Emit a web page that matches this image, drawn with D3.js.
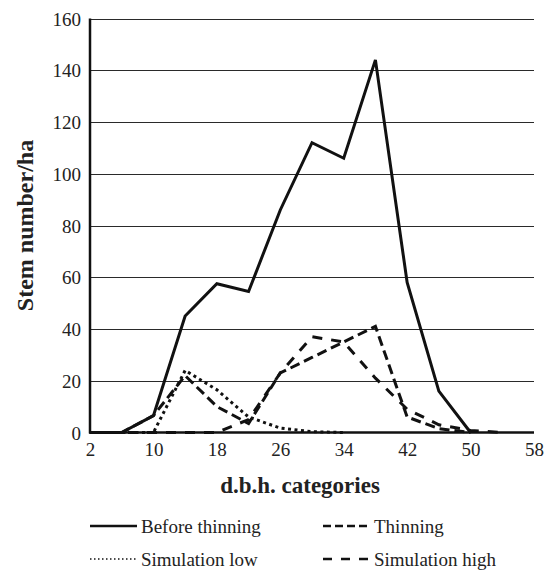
<!DOCTYPE html>
<head>
  <meta charset="UTF-8">
  <style>
    *{ margin: 0px; }
    body{ background-color: white; }
    svg, svg text{ font-family: "Liberation Serif", "Times New Roman", serif !important; }
  </style>
  <script src="https://d3js.org/d3.v7.min.js"></script>
</head>
<body>
  <svg id="chart" width="544" height="570"></svg>
  <script>
    // d.b.h. categories (cm)
    var dbh = [2, 6, 10, 14, 18, 22, 26, 30, 34, 38, 42, 46, 50, 54, 58];
    var xTicks = [2, 10, 18, 26, 34, 42, 50, 58];
    var yTicks = [0, 20, 40, 60, 80, 100, 120, 140, 160];

    // stems per ha
    var beforeThinning = [0, 0, 6.5, 45, 57.5, 54.5, 86, 112, 106, 144, 58, 16, 0];
    var thinning = [0, 0, 6.5, 22, 10, 3.5, 23, 29, 35, 41, 6, 1.5, 0];
    var simulationLow = [0, 0, 0, 24, 16.5, 6, 1.7, 0.3, 0];
    var simulationHigh = [0, 0, 0, 0, 0, 5, 23, 37, 35, 21, 9, 3, 0.8, 0];

    var series = [
      {name: "Before thinning", values: beforeThinning, dash: null, legendDash: null},
      {name: "Thinning", values: thinning, dash: "10,5", legendDash: "8,4"},
      {name: "Simulation low", values: simulationLow, dash: "3,3.5", legendDash: "1.5,2.5"},
      {name: "Simulation high", values: simulationHigh, dash: "10,9", legendDash: "9,9"}
    ];

    var svg = d3.select("#chart");
    var plotLeft = 90, plotRight = 534, plotTop = 18.5, plotBottom = 432.5;

    var x = d3.scaleLinear().domain([2, 58]).range([plotLeft, plotRight]);
    var y = d3.scaleLinear().domain([0, 160]).range([plotBottom, plotTop]);

    // gridlines
    svg.append("g")
      .selectAll("line")
      .data(yTicks.filter(d => d > 0))
      .enter()
      .append("line")
      .attr("x1", plotLeft)
      .attr("x2", plotRight)
      .attr("y1", d => Math.round(y(d)) + 0.5)
      .attr("y2", d => Math.round(y(d)) + 0.5)
      .attr("stroke", "#2a2a2a")
      .attr("stroke-width", 1);

    // axes (labels only, no tick marks)
    var yAxis = svg.append("g")
      .attr("transform", "translate(" + plotLeft + ",0)")
      .call(d3.axisLeft(y).tickValues(yTicks).tickSize(0).tickPadding(9))
      .attr("font-family", null)
      .attr("font-size", 19);
    yAxis.select(".domain").remove();
    yAxis.selectAll("text").attr("dy", "0.35em").attr("fill", "#222");

    var xAxis = svg.append("g")
      .attr("transform", "translate(0," + plotBottom + ")")
      .call(d3.axisBottom(x).tickValues(xTicks).tickSize(0).tickPadding(10))
      .attr("font-family", null)
      .attr("font-size", 19);
    xAxis.select(".domain").remove();
    xAxis.selectAll("text").attr("dy", "0.71em").attr("fill", "#222");

    // series lines
    var line = d3.line()
      .x((d, i) => x(dbh[i]))
      .y(d => y(d));

    svg.append("g")
      .selectAll("path")
      .data(series)
      .enter()
      .append("path")
      .attr("d", d => line(d.values))
      .attr("fill", "none")
      .attr("stroke", "#111")
      .attr("stroke-width", 3)
      .attr("stroke-linejoin", "miter")
      .attr("stroke-dasharray", d => d.dash);

    // axis lines drawn on top
    svg.append("line")
      .attr("x1", plotLeft).attr("x2", plotLeft)
      .attr("y1", plotTop).attr("y2", plotBottom + 1)
      .attr("stroke", "#111").attr("stroke-width", 2.5);
    svg.append("line")
      .attr("x1", plotLeft - 1).attr("x2", plotRight)
      .attr("y1", plotBottom).attr("y2", plotBottom)
      .attr("stroke", "#111").attr("stroke-width", 2.5);

    // axis titles
    svg.append("text")
      .attr("x", 300)
      .attr("y", 493)
      .attr("text-anchor", "middle")
      .attr("font-weight", "bold")
      .attr("font-size", "23px")
      .attr("fill", "#222")
      .text("d.b.h. categories");

    svg.append("text")
      .attr("transform", "translate(33," + ((plotTop + plotBottom) / 2) + ") rotate(-90)")
      .attr("text-anchor", "middle")
      .attr("font-weight", "bold")
      .attr("font-size", "24px")
      .attr("fill", "#222")
      .text("Stem number/ha");

    // legend, two columns
    var legend = svg.append("g")
      .selectAll("g")
      .data(series)
      .enter()
      .append("g")
      .attr("transform", (d, i) => "translate(" + (i % 2 === 0 ? 90 : 323) + "," + (i < 2 ? 526 : 559) + ")");

    legend.append("line")
      .attr("x1", 0).attr("x2", 47)
      .attr("stroke", "#111")
      .attr("stroke-width", d => d.name === "Simulation low" ? 1.5 : 2.5)
      .attr("stroke-dasharray", d => d.legendDash);

    legend.append("text")
      .attr("x", 51)
      .attr("y", 7)
      .attr("font-size", "19px")
      .attr("fill", "#222")
      .text(d => d.name);
  </script>
</body>
